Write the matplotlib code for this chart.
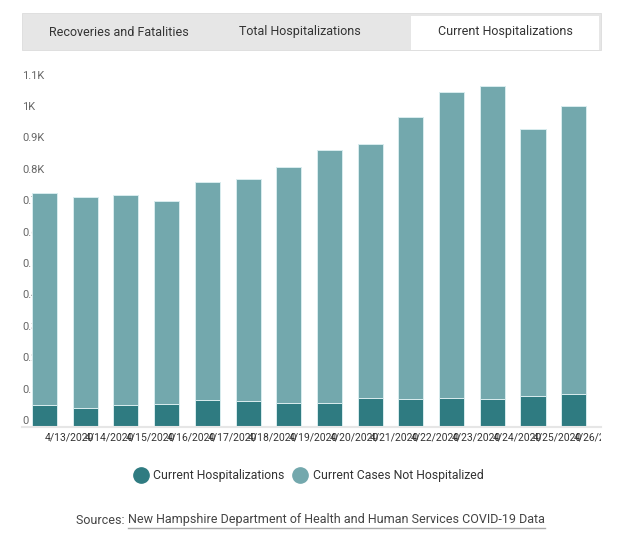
import matplotlib
matplotlib.use('Agg')
import matplotlib.pyplot as plt
from matplotlib.patches import Rectangle
from matplotlib.transforms import Bbox, TransformedBbox, ScaledTranslation

plt.rcParams['font.family'] = ['Roboto', 'DejaVu Sans']

dates = ['4/13/2020', '4/14/2020', '4/15/2020', '4/16/2020', '4/17/2020',
         '4/18/2020', '4/19/2020', '4/20/2020', '4/21/2020', '4/22/2020',
         '4/23/2020', '4/24/2020', '4/25/2020', '4/26/2020']
hospitalized = [70, 61, 70, 73, 86, 83, 76, 76, 92, 89, 92, 89, 97, 103]
not_hospitalized = [673, 670, 668, 646, 693, 705, 751, 804, 807, 898, 973, 996, 851, 919]
y_ticks = [0, 100, 200, 300, 400, 500, 600, 700, 800, 900, 1000, 1100]
y_labels = ['0', '0.1K', '0.2K', '0.3K', '0.4K', '0.5K', '0.6K', '0.7K',
            '0.8K', '0.9K', '1K', '1.1K']
tabs = ['Recoveries and Fatalities', 'Total Hospitalizations', 'Current Hospitalizations']
series = ['Current Hospitalizations', 'Current Cases Not Hospitalized']

dark = '#2f7b81'
light = '#73a8ad'

W, H = 625, 544
fig = plt.figure(figsize=(W / 100, H / 100), dpi=100)

def fx(px):
    return px / W

def fy(py):
    return 1 - py / H

# tab strip
fig.patches.append(Rectangle((fx(22), fy(50)), fx(601) - fx(22), fy(13) - fy(50),
                             transform=fig.transFigure, facecolor='#e6e6e6',
                             edgecolor='#dcdcdc', lw=0.6))
fig.patches.append(Rectangle((fx(411), fy(50)), fx(599) - fx(411), fy(16) - fy(50),
                             transform=fig.transFigure, facecolor='white',
                             edgecolor='none'))
for label, cx in zip(tabs, [119, 300, 505]):
    fig.text(fx(cx), fy(32), label, ha='center', va='center', fontsize=9,
             color='#333333')

ax = fig.add_axes([fx(22), fy(426.7), fx(601) - fx(22), fy(60) - fy(426.7)])
x = list(range(len(dates)))
ax.bar(x, hospitalized, width=0.615, color=dark, edgecolor='#d8ecee', linewidth=0.7,
       label=series[0], zorder=2)
ax.bar(x, not_hospitalized, width=0.615, bottom=hospitalized, color=light,
       edgecolor='#d8ecee', linewidth=0.7, label=series[1], zorder=2)

ax.set_xlim(-0.553, 13.67)
ax.set_ylim(0, 1168)
for s in ['top', 'right', 'left']:
    ax.spines[s].set_visible(False)
ax.spines['bottom'].set_color('#e6e6e6')
ax.spines['bottom'].set_linewidth(1.5)
ax.set_axisbelow(True)

ax.set_yticks(y_ticks)
ax.set_yticklabels(y_labels)
ax.tick_params(axis='y', length=0, pad=0, labelsize=8, labelcolor='#666666')
up = ScaledTranslation(0, 0.5 / 72, fig.dpi_scale_trans)
for t in ax.get_yticklabels():
    t.set_horizontalalignment('left')
    t.set_verticalalignment('bottom')
    t.set_transform(t.get_transform() + up)

ax.set_xticks(x)
ax.set_xticklabels(dates)
ax.tick_params(axis='x', length=0, pad=4, labelsize=7.5, labelcolor='#333333')
clip = TransformedBbox(Bbox([[0, 0], [fx(601), 1]]), fig.transFigure)
for t in ax.get_xticklabels():
    t.set_horizontalalignment('left')
    t.set_clip_box(clip)
    t.set_clip_on(True)

handles = [plt.Line2D([], [], marker='o', ls='none', markersize=11, color=c)
           for c in [dark, light]]
fig.legend(handles, series, loc='center', bbox_to_anchor=(fx(309), fy(476)), ncol=2,
           frameon=False, fontsize=8.8, handlelength=1.0, handletextpad=0.5,
           columnspacing=0.8, labelcolor='#333333')

src = fig.text(fx(76), fy(520), 'Sources: ', ha='left', va='center', fontsize=9,
               color='#444444')
fig.canvas.draw()
bb = src.get_window_extent()
link = fig.text(bb.x1 / W, fy(520), 'New Hampshire Department of Health and Human Services COVID-19 Data',
                ha='left', va='center', fontsize=9, color='#444444')
fig.canvas.draw()
lb = link.get_window_extent()
fig.add_artist(plt.Line2D([lb.x0 / W, lb.x1 / W], [(lb.y0 - 1) / H] * 2,
                          transform=fig.transFigure, color='#aaaaaa', lw=1))

fig.savefig('out.png', dpi=100)
